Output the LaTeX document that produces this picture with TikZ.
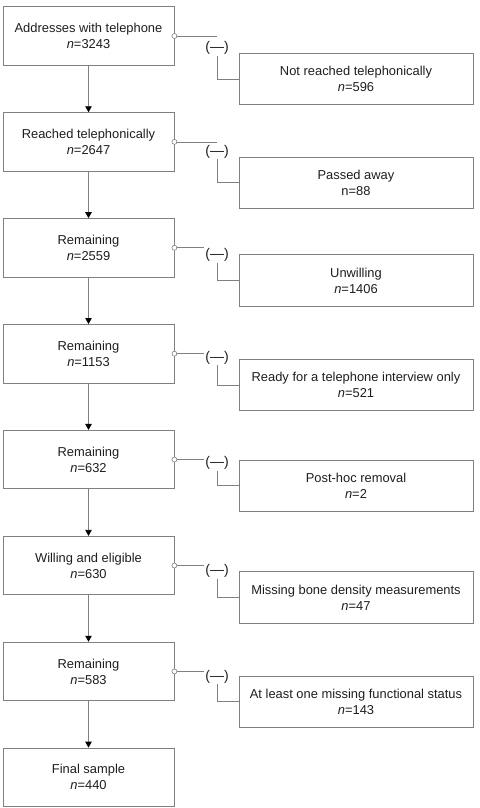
\documentclass[tikz,border=0pt]{standalone}
\usepackage{fontspec}
\setmainfont{Liberation Sans}
\usetikzlibrary{arrows.meta}
\usetikzlibrary{positioning}

\definecolor{linegray}{RGB}{128,128,128}
\definecolor{textgray}{RGB}{30,30,30}

\tikzset{
  mainbox/.style={draw=linegray,line width=0.8pt,minimum width=171pt,minimum height=58.5pt,
    inner sep=0pt,align=center,text=textgray,font=\fontsize{12.9}{16}\selectfont},
  sidebox/.style={draw=linegray,line width=0.8pt,minimum width=234pt,minimum height=51.5pt,
    inner sep=0pt,align=center,text=textgray,font=\fontsize{12.9}{16}\selectfont},
  minus/.style={fill=white,inner sep=1pt,text=textgray,font=\fontsize{14}{16}\selectfont},
  flow/.style={draw=linegray,line width=0.8pt,-{Triangle[width=6.5pt,length=6pt,black]}},
  exclude/.style={draw=linegray,line width=0.8pt},
  dot/.style={draw=linegray,line width=0.6pt,fill=white}
}

\begin{document}
\begin{tikzpicture}[x=1pt,y=-1pt]
\useasboundingbox (0,0) rectangle (479,808);

% main column
\node[mainbox] (L1) at (88.5,36)    {Addresses with telephone\\\textit{n}=3243};
\node[mainbox] (L2) at (88.5,141.9) {Reached telephonically\\\textit{n}=2647};
\node[mainbox] (L3) at (88.5,247.8) {Remaining\\\textit{n}=2559};
\node[mainbox] (L4) at (88.5,353.7) {Remaining\\\textit{n}=1153};
\node[mainbox] (L5) at (88.5,459.6) {Remaining\\\textit{n}=632};
\node[mainbox] (L6) at (88.5,565.5) {Willing and eligible\\\textit{n}=630};
\node[mainbox] (L7) at (88.5,671.4) {Remaining\\\textit{n}=583};
\node[mainbox] (L8) at (88.5,777.3) {Final sample\\\textit{n}=440};

% excluded
\node[sidebox] (R1) at (356,79)    {Not reached telephonically\\\textit{n}=596};
\node[sidebox] (R2) at (356,182.7) {Passed away\\n=88};
\node[sidebox] (R3) at (356,280.5) {Unwilling\\\textit{n}=1406};
\node[sidebox] (R4) at (356,385)   {Ready for a telephone interview only\\\textit{n}=521};
\node[sidebox] (R5) at (356,485.8) {Post-hoc removal\\\textit{n}=2};
\node[sidebox] (R6) at (356,597.5) {Missing bone density measurements\\\textit{n}=47};
\node[sidebox] (R7) at (356,701.7) {At least one missing functional status\\\textit{n}=143};

\draw[flow] (L1) -- (L2);
\draw[flow] (L2) -- (L3);
\draw[flow] (L3) -- (L4);
\draw[flow] (L4) -- (L5);
\draw[flow] (L5) -- (L6);
\draw[flow] (L6) -- (L7);
\draw[flow] (L7) -- (L8);

\coordinate (c1) at (217,48);
\coordinate (c2) at (217,151.7);
\coordinate (c3) at (217,255);
\coordinate (c4) at (217,357.7);
\coordinate (c5) at (217,463.3);
\coordinate (c6) at (217,571);
\coordinate (c7) at (217,676.7);

\draw[exclude] (L1.east) -- (L1.east -| c1);
\draw[exclude] (L2.east) -- (L2.east -| c2);
\draw[exclude] (L3.east) -- (L3.east -| c3);
\draw[exclude] (L4.east) -- (L4.east -| c4);
\draw[exclude] (L5.east) -- (L5.east -| c5);
\draw[exclude] (L6.east) -- (L6.east -| c6);
\draw[exclude] (L7.east) -- (L7.east -| c7);

\node[minus] (m1) at (c1) {(—)};
\node[minus] (m2) at (c2) {(—)};
\node[minus] (m3) at (c3) {(—)};
\node[minus] (m4) at (c4) {(—)};
\node[minus] (m5) at (c5) {(—)};
\node[minus] (m6) at (c6) {(—)};
\node[minus] (m7) at (c7) {(—)};

\draw[exclude] (m1.south) |- (R1.west);
\draw[exclude] (m2.south) |- (R2.west);
\draw[exclude] (m3.south) |- (R3.west);
\draw[exclude] (m4.south) |- (R4.west);
\draw[exclude] (m5.south) |- (R5.west);
\draw[exclude] (m6.south) |- (R6.west);
\draw[exclude] (m7.south) |- (R7.west);

\draw[dot] (L1.east) circle (2.5pt);
\draw[dot] (L2.east) circle (2.5pt);
\draw[dot] (L3.east) circle (2.5pt);
\draw[dot] (L4.east) circle (2.5pt);
\draw[dot] (L5.east) circle (2.5pt);
\draw[dot] (L6.east) circle (2.5pt);
\draw[dot] (L7.east) circle (2.5pt);

\end{tikzpicture}
\end{document}
